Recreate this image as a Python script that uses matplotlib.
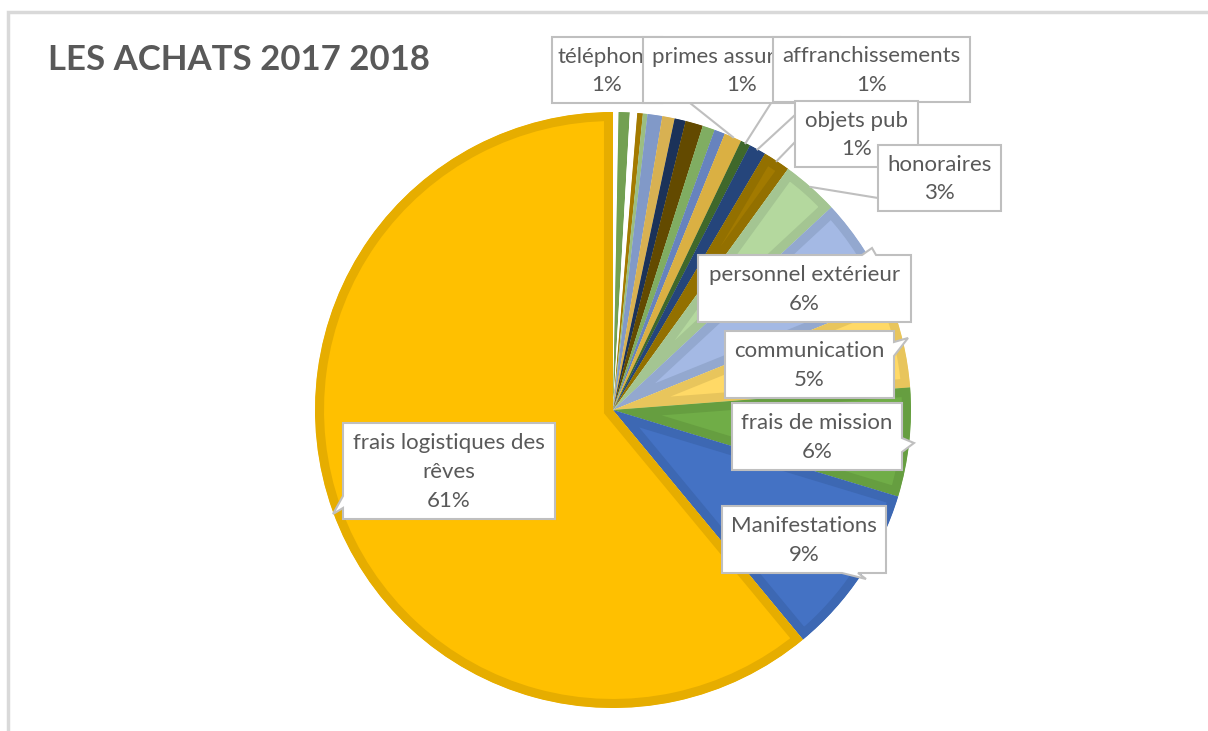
import matplotlib as mpl
mpl.use('Agg')
import matplotlib.pyplot as plt
from matplotlib.patches import Polygon, Rectangle
import numpy as np

plt.rcParams['font.family'] = ['Lato', 'DejaVu Sans']

# données (ordre horaire à partir de midi)
categories = ['', 'téléphone', '', '', '', '', '', '', '', '', '',
              'primes assurances', 'affranchissements', 'objets pub', '',
              'honoraires', 'personnel extérieur', 'communication',
              'frais de mission', 'Manifestations', 'frais logistiques des\nrêves']
valeurs = [0.3, 0.6, 0.4, 0.3, 0.25, 0.8, 0.67, 0.6, 0.95, 0.67, 0.58,
           0.95, 0.53, 0.92, 1.47,
           3.1, 5.8, 4.9, 5.9, 9.3, 61.0]

couleurs = ['#FFFFFF', '#7FB05C', '#FFFFFF', '#B38600', '#A9CF8E', '#8EA8DA',
            '#E9C25A', '#1E3763', '#6E5300', '#8CBD6B', '#7090D0', '#EEC14A',
            '#467330', '#294C87', '#A27A00',
            '#B4D89E', '#A4B9E4', '#FFD966', '#70AD47', '#4472C4', '#FFC000']
bordures = ['#FFFFFF', '#73A052', '#FFFFFF', '#A37A00', '#9BBE82', '#8199C8',
            '#D8B152', '#1B3259', '#634A00', '#80AD62', '#6783BE', '#DAB043',
            '#3F682B', '#25457B', '#937000',
            '#A4C592', '#93A8CF', '#E8C55C', '#669E40', '#3D68B3', '#E6AD00']

W, H = 1208, 731
cx, cy, r = 613, 410, 298
gris = '#595959'
trait = '#BFBFBF'

fig = plt.figure(figsize=(W/100, H/100), dpi=100)

# cadre du graphique
fig.add_artist(Rectangle((8/W, -0.1), 1.2, 1 - 12/H + 0.1, transform=fig.transFigure,
                         facecolor='none', edgecolor='#D9D9D9', linewidth=2.5))

ax = fig.add_axes([(cx - r)/W, (H - cy - r)/H, 2*r/W, 2*r/H])
wedges, _ = ax.pie(valeurs, colors=couleurs, startangle=90, counterclock=False,
                   radius=1, wedgeprops=dict(linewidth=0))
for w, b in zip(wedges, bordures):
    w.set_edgecolor(b)
    w.set_linewidth(13)
    w.set_clip_path(w)
    w.set_clip_on(True)
ax.set_xlim(-1, 1)
ax.set_ylim(-1, 1)
ax.set_axis_off()

# calque en pixels pour les étiquettes
ov = fig.add_axes([0, 0, 1, 1])
ov.set_xlim(0, W)
ov.set_ylim(H, 0)
ov.set_axis_off()

total = sum(valeurs)
cumul = np.cumsum([0] + valeurs[:-1])


def point_bord(i):
    ang = np.radians(360 * (cumul[i] + valeurs[i] / 2) / total)
    return cx + r * np.sin(ang), cy - r * np.cos(ang)


def callout(x0, y0, x1, y1, notch=None):
    pts = [(x0, y0)]
    if notch and notch[0] == 'top':
        pts += [(notch[1], y0), notch[3], (notch[2], y0)]
    pts += [(x1, y0)]
    if notch and notch[0] == 'right':
        pts += [(x1, notch[1]), notch[3], (x1, notch[2])]
    pts += [(x1, y1)]
    if notch and notch[0] == 'bottom':
        pts += [(notch[2], y1), notch[3], (notch[1], y1)]
    pts += [(x0, y1)]
    if notch and notch[0] == 'left':
        pts += [(x0, notch[2]), notch[3], (x0, notch[1])]
    return pts


# position des boîtes (x0, y0, x1, y1) et encoche éventuelle
boites = {
    1: ((552, 37, 662, 103), None),
    11: ((643, 37, 840, 103), None),
    12: ((773, 37, 970, 102), None),
    13: ((795, 101, 918, 167), None),
    15: ((878, 145, 1001, 211), None),
    16: ((698, 255, 911, 322), ('top', 862, 876, (872, 248))),
    17: ((725, 331, 894, 398), ('right', 342, 356, (908, 338))),
    18: ((732, 403, 902, 470), ('right', 438, 452, (914, 443))),
    19: ((722, 506, 886, 573), ('bottom', 842, 858, (866, 579))),
    20: ((343, 423, 555, 519), ('left', 496, 508, (333, 514))),
}

# traits de rappel
rappels = [(11, (690, 103)), (12, (773, 100)), (13, (795, 115)),
           (14, (797, 140)), (15, (878, 198))]
for i, (x, y) in rappels:
    px, py = point_bord(i)
    ov.plot([x, px], [y, py], color=trait, linewidth=1.5, zorder=1)

z = 2
for i, ((x0, y0, x1, y1), notch) in boites.items():
    ov.add_patch(Polygon(callout(x0, y0, x1, y1, notch), closed=True,
                         facecolor='white', edgecolor=trait, linewidth=1.5, zorder=z))
    pct = round(valeurs[i] / total * 100)
    ov.text((x0 + x1) / 2, (y0 + y1) / 2 + 1, f'{categories[i]}\n{pct}%',
            ha='center', va='center', fontsize=16, color=gris,
            linespacing=1.55, zorder=z + 1)
    z += 2

ov.text(48, 60, 'LES ACHATS 2017 2018', fontsize=25, fontweight='bold',
        color=gris, ha='left', va='center')

fig.savefig('out.png', dpi=100)
